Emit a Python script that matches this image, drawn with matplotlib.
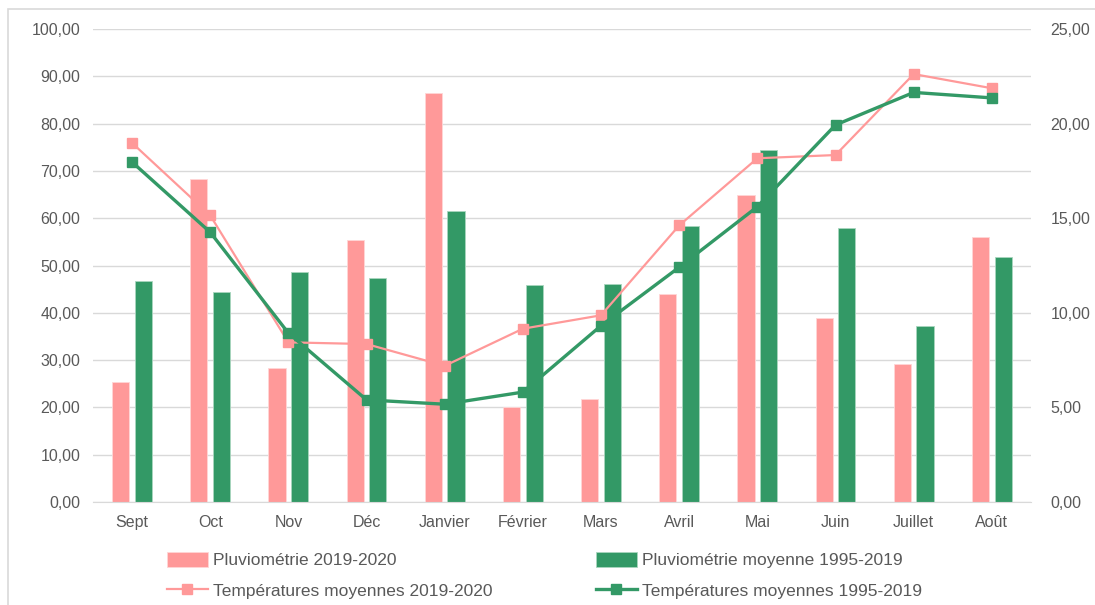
import numpy as np
import matplotlib.pyplot as plt
from matplotlib.patches import Rectangle

plt.rcParams['font.family'] = ['Liberation Sans', 'DejaVu Sans']

mois = ["Sept", "Oct", "Nov", "Déc", "Janvier", "Février", "Mars",
        "Avril", "Mai", "Juin", "Juillet", "Août"]

pluie_2019 = [25.4, 68.2, 28.4, 55.5, 86.5, 20.0, 21.8, 43.9, 65.0, 38.9, 29.2, 56.0]
pluie_moy = [46.8, 44.4, 48.7, 47.3, 61.5, 45.8, 46.2, 58.4, 74.4, 58.0, 37.2, 51.8]
temp_2019 = [18.98, 15.15, 8.44, 8.35, 7.20, 9.16, 9.87, 14.62, 18.17, 18.34, 22.62, 21.87]
temp_moy = [17.97, 14.26, 8.93, 5.40, 5.17, 5.81, 9.32, 12.41, 15.61, 19.93, 21.65, 21.36]

rose = '#FF9999'
vert = '#339966'
gris = '#595959'

fig = plt.figure(figsize=(10.95, 6.05), dpi=100)
ax = fig.add_axes([0.0849, 0.1702, 0.8566, 0.7818])
ax2 = ax.twinx()

x = np.arange(len(mois))
w = 0.22
b1 = ax.bar(x - 0.145, pluie_2019, w, color=rose, edgecolor='#ffd6d6', linewidth=0.6,
            label="Pluviométrie 2019-2020")
b2 = ax.bar(x + 0.145, pluie_moy, w, color=vert, edgecolor='#a9d6bf', linewidth=0.6,
            label="Pluviométrie moyenne 1995-2019")

l1, = ax2.plot(x, temp_2019, color=rose, lw=1.6, marker='s', ms=6.5,
               label="Températures moyennes 2019-2020")
l2, = ax2.plot(x, temp_moy, color=vert, lw=2.4, marker='s', ms=6.5,
               label="Températures moyennes 1995-2019")

ax.set_xlim(-0.5, 11.5)
ax.set_ylim(0, 100)
ax.set_yticks(np.arange(0, 101, 10))
ax.set_yticklabels([f"{v:.2f}".replace('.', ',') for v in np.arange(0, 101, 10)])
ax2.set_ylim(0, 25)
ax2.set_yticks(np.arange(0, 26, 5))
ax2.set_yticklabels([f"{v:.2f}".replace('.', ',') for v in np.arange(0, 26, 5)])
ax.set_xticks(x)
ax.set_xticklabels(mois)

ax.grid(axis='y', color='#D9D9D9', lw=1)
ax.set_axisbelow(True)
for a in (ax, ax2):
    for s in ['top', 'left', 'right']:
        a.spines[s].set_visible(False)
    a.spines['bottom'].set_color('#D9D9D9')
ax2.spines['bottom'].set_visible(False)

ax.tick_params(axis='both', length=0, colors=gris, labelsize=11.5)
ax.tick_params(axis='y', pad=9)
ax.tick_params(axis='x', pad=9)
ax2.tick_params(axis='y', length=0, colors=gris, labelsize=11.5, pad=14)

opts = dict(loc='upper left', frameon=False, fontsize=12.5, handlelength=2.36,
            handleheight=0.9, labelspacing=0.8, handletextpad=0.3, labelcolor=gris)
fig.legend(handles=[b1, l1], bbox_to_anchor=(0.138, 0.113), **opts)
fig.legend(handles=[b2, l2], bbox_to_anchor=(0.530, 0.113), **opts)

# cadre du graphique
fig.patches.append(Rectangle((8 / 1095, -0.1), 1.2, 1 - 9 / 605 + 0.1,
                             transform=fig.transFigure, fill=False,
                             edgecolor='#D9D9D9', lw=1.2))

fig.savefig('out.png', dpi=100)
